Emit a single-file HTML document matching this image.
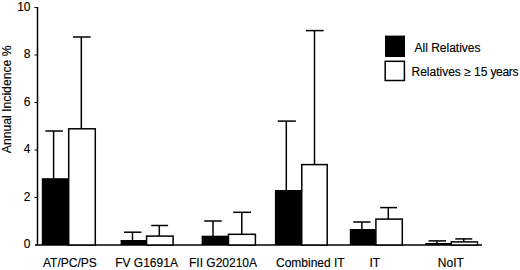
<!DOCTYPE html>
<html><head><meta charset="utf-8">
<style>
html,body{margin:0;padding:0;background:#fff;width:520px;height:270px;overflow:hidden}
svg{display:block}
text{font-family:"Liberation Sans",sans-serif;fill:#000;stroke:#000;stroke-width:0.15px}
</style></head>
<body>
<svg width="520" height="270" viewBox="0 0 520 270">
<g stroke="#000" stroke-width="1.5" fill="none">
<line x1="37.5" y1="7" x2="37.5" y2="245.5"/>
<line x1="35" y1="245" x2="482" y2="245"/>
</g>
<g stroke="#000" stroke-width="1">
<line x1="34.5" y1="7.5" x2="37.5" y2="7.5"/>
<line x1="34.5" y1="55" x2="37.5" y2="55"/>
<line x1="34.5" y1="102.5" x2="37.5" y2="102.5"/>
<line x1="34.5" y1="150" x2="37.5" y2="150"/>
<line x1="34.5" y1="197.5" x2="37.5" y2="197.5"/>
</g>
<g stroke="#000" stroke-width="1.5">
<line x1="53.6" y1="131.0" x2="53.6" y2="179.2"/><line x1="45.4" y1="131.0" x2="62.9" y2="131.0"/>
<rect x="41.8" y="178.2" width="26.90" height="66.80" fill="#000" stroke="none"/>
<line x1="81.3" y1="37.0" x2="81.3" y2="128.8"/><line x1="72.9" y1="37.0" x2="90.6" y2="37.0"/>
<rect x="68.7" y="128.8" width="26.60" height="116.20" fill="#fff"/>
<line x1="132.5" y1="232.2" x2="132.5" y2="241.0"/><line x1="124.0" y1="232.2" x2="141.5" y2="232.2"/>
<rect x="120.6" y="240.0" width="26.00" height="5.00" fill="#000" stroke="none"/>
<line x1="159.3" y1="225.5" x2="159.3" y2="236.1"/><line x1="151.25" y1="225.5" x2="168.1" y2="225.5"/>
<rect x="146.6" y="236.1" width="26.50" height="8.90" fill="#fff"/>
<line x1="213.0" y1="221.0" x2="213.0" y2="236.7"/><line x1="204.2" y1="221.0" x2="221.8" y2="221.0"/>
<rect x="201.6" y="235.7" width="26.90" height="9.30" fill="#000" stroke="none"/>
<line x1="241.8" y1="212.3" x2="241.8" y2="234.3"/><line x1="233.2" y1="212.3" x2="251.0" y2="212.3"/>
<rect x="228.5" y="234.3" width="26.90" height="10.70" fill="#fff"/>
<line x1="286.3" y1="121.1" x2="286.3" y2="191.0"/><line x1="277.75" y1="121.1" x2="295.9" y2="121.1"/>
<rect x="274.9" y="190.0" width="26.85" height="55.00" fill="#000" stroke="none"/>
<line x1="314.5" y1="30.6" x2="314.5" y2="164.6"/><line x1="306.0" y1="30.6" x2="323.6" y2="30.6"/>
<rect x="301.75" y="164.6" width="25.45" height="80.40" fill="#fff"/>
<line x1="361.9" y1="222.0" x2="361.9" y2="230.0"/><line x1="353.3" y1="222.0" x2="370.5" y2="222.0"/>
<rect x="349.8" y="229.0" width="26.10" height="16.00" fill="#000" stroke="none"/>
<line x1="388.3" y1="207.6" x2="388.3" y2="219.1"/><line x1="380.2" y1="207.6" x2="397.0" y2="207.6"/>
<rect x="375.9" y="219.1" width="26.40" height="25.90" fill="#fff"/>
<line x1="436.9" y1="240.9" x2="436.9" y2="244.0"/><line x1="428.5" y1="240.9" x2="446.0" y2="240.9"/>
<rect x="425.25" y="243.0" width="26.00" height="2.00" fill="#000" stroke="none"/>
<line x1="463.75" y1="238.9" x2="463.75" y2="241.9"/><line x1="455.25" y1="238.9" x2="472.25" y2="238.9"/>
<rect x="451.25" y="241.9" width="26.25" height="3.10" fill="#fff"/>
<rect x="385" y="35.6" width="20" height="21.4" fill="#000" stroke="none"/>
<rect x="385.2" y="61.3" width="19.2" height="19.2" fill="#fff"/>
</g>
<g font-size="12" text-anchor="end">
<text x="30.5" y="10.5">10</text>
<text x="30.5" y="58">8</text>
<text x="30.5" y="105.5">6</text>
<text x="30.5" y="153">4</text>
<text x="30.5" y="200.5">2</text>
<text x="30.5" y="248">0</text>
</g>
<text font-size="12.2" transform="translate(10.5,153.2) rotate(-90)">Annual Incidence %</text>
<g font-size="12">
<text x="43" y="267">AT/PC/PS</text>
<text x="115.2" y="267">FV G1691A</text>
<text x="189" y="267">FII G20210A</text>
<text x="276" y="267">Combined IT</text>
<text x="369.5" y="267">IT</text>
<text x="437.8" y="267">NoIT</text>
</g>
<g font-size="12">
<text x="414.5" y="52.3">All Relatives</text>
<text x="411.5" y="75.6">Relatives ≥ 15 <tspan dx="-0.4" letter-spacing="-0.3">years</tspan></text>
</g>
</svg>
</body></html>
